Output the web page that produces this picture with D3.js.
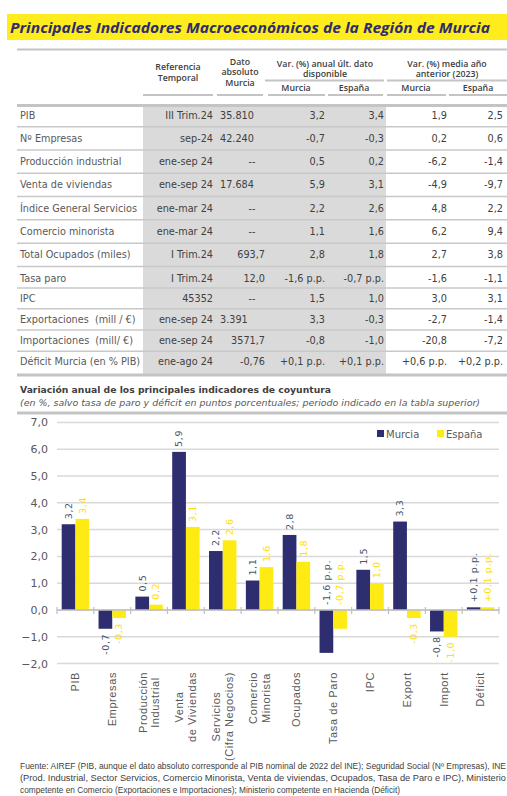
<!DOCTYPE html>
<html><head><meta charset="utf-8">
<script src="https://cdn.jsdelivr.net/npm/d3@7"></script>
<style>body{margin:0;background:#fff}svg{display:block}</style>
</head><body><div id="c"></div>
<script>
// ---------- DATA ----------
const rowNames = ["PIB","Nº Empresas","Producción industrial","Venta de viviendas","Índice General Servicios","Comercio minorista","Total Ocupados (miles)","Tasa paro","IPC","Exportaciones  (mill / €)","Importaciones  (mill/ €)","Déficit Murcia (en % PIB)"];
const refTemporal = ["III Trim.24","sep-24","ene-sep 24","ene-sep 24","ene-mar 24","ene-mar 24","I Trim.24","I Trim.24","45352","ene-sep 24","ene-sep 24","ene-ago 24"];
const datoAbs = ["35.810","42.240","--","17.684","--","--","693,7","12,0","--","3.391","3571,7","-0,76"];
const varMurcia = ["3,2","-0,7","0,5","5,9","2,2","1,1","2,8","-1,6 p.p.","1,5","3,3","-0,8","+0,1 p.p."];
const varEspana = ["3,4","-0,3","0,2","3,1","2,6","1,6","1,8","-0,7 p.p.","1,0","-0,3","-1,0","+0,1 p.p."];
const medMurcia = ["1,9","0,2","-6,2","-4,9","4,8","6,2","2,7","-1,6","3,0","-2,7","-20,8","+0,6 p.p."];
const medEspana = ["2,5","0,6","-1,4","-9,7","2,2","9,4","3,8","-1,1","3,1","-1,4","-7,2","+0,2 p.p."];

const categories = ["PIB","Empresas","Producción\nIndustrial","Venta\nde Viviendas","Servicios\n(Cifra Negocios)","Comercio\nMinorista","Ocupados","Tasa de Paro","IPC","Export","Import","Déficit"];
const murcia = [3.2,-0.7,0.5,5.9,2.2,1.1,2.8,-1.6,1.5,3.3,-0.8,0.1];
const espana = [3.4,-0.3,0.2,3.1,2.6,1.6,1.8,-0.7,1.0,-0.3,-1.0,0.1];
const murciaLabels = ["3,2","-0,7","0,5","5,9","2,2","1,1","2,8","-1,6 p.p.","1,5","3,3","-0,8","+0,1 p.p."];
const espanaLabels = ["3,4","-0,3","0,2","3,1","2,6","1,6","1,8","-0,7 p.p.","1,0","-0,3","-1,0","+0,1 p.p."];
const yTicks = [-2,-1,0,1,2,3,4,5,6,7];
const seriesNames = ["Murcia","España"];

const footLines = [
 "Fuente: AIREF (PIB, aunque el dato absoluto corresponde al PIB nominal de 2022 del INE); Seguridad Social (Nº Empresas), INE",
 "(Prod. Industrial, Sector Servicios, Comercio Minorista, Venta de viviendas, Ocupados, Tasa de Paro e IPC), Ministerio",
 "competente en Comercio (Exportaciones e Importaciones); Ministerio competente en Hacienda (Déficit)"
];

// ---------- STYLE ----------
const NAVY = "#2D2D70", YEL = "#FFEB14", GRID = "#D9D9D9", LINE = "#C4C4C4";
const W = 507, H = 796;
const svg = d3.select("#c").append("svg").attr("width", W).attr("height", H);

// ---------- TABLE ----------
svg.append("rect").attr("x",7).attr("y",14).attr("width",500).attr("height",26).attr("fill","#FFEC1C");
svg.append("text").attr("x",10).attr("y",33).text("Principales Indicadores Macroeconómicos de la Región de Murcia")
  .attr("font-family","'Open Sans'").attr("font-weight",700).attr("font-style","italic").attr("font-size",15)
  .attr("fill","#2E2C6E").attr("textLength",480).attr("lengthAdjust","spacingAndGlyphs");

const hline = (x1,x2,y,w,c) => svg.append("line").attr("x1",x1).attr("x2",x2).attr("y1",y).attr("y2",y)
  .attr("stroke",c||LINE).attr("stroke-width",w||1.5);
hline(17,507,49.5,2);

const hdr = (x,y,t) => svg.append("text").attr("x",x).attr("y",y).text(t).attr("text-anchor","middle")
  .attr("font-family","'Open Sans'").attr("font-weight",600).attr("font-size",8.8).attr("fill","#404040");
hdr(178,70,"Referencia"); hdr(178,81,"Temporal");
hdr(240,64.5,"Dato"); hdr(240,75,"absoluto"); hdr(240,85.5,"Murcia");
hdr(325,66.5,"Var. (%) anual últ. dato"); hdr(325,77,"disponible");
hdr(447,66.5,"Var. (%) media año"); hdr(447,77,"anterior (2023)");
hline(265,384,80.5,2); hline(387,507,80.5,2);
hdr(296,91,"Murcia"); hdr(354,91,"España"); hdr(416,91,"Murcia"); hdr(478,91,"España");
[[143,213],[217,263],[268,325],[328,383],[387,446],[449,507]].forEach(s=>hline(s[0],s[1],95,2));
hline(17,507,105.5,3);

// row positions
const rowY = i => i <= 7 ? 115 + 23.3*i : 276.7 + 21.3*(i-7);
svg.append("rect").attr("x",143).attr("y",107).attr("width",243).attr("height",267).attr("fill","#DADADA");
for (let i=0;i<rowNames.length-1;i++) hline(17,507,(rowY(i)+rowY(i+1))/2,1.5,"#C8C8C8");
hline(17,507,375,3);

const cell = (x,y,t,anchor,col) => svg.append("text").attr("x",x).attr("y",y).text(t).attr("text-anchor",anchor)
  .attr("font-family","'DejaVu Sans'").attr("font-size",9.7).attr("fill",col||"#404040").attr("xml:space","preserve");
rowNames.forEach((n,i)=>{
  const y = rowY(i)+3.5;
  cell(20,y,n,"start","#595959");
  cell(213,y,refTemporal[i],"end");
  const d = datoAbs[i];
  if (d === "--") cell(252,y,d,"middle");
  else if (d.includes(".")) cell(220,y,d,"start");
  else cell(265,y,d,"end");
  cell(325,y,varMurcia[i],"end");
  cell(384,y,varEspana[i],"end");
  cell(447,y,medMurcia[i],"end");
  cell(503,y,medEspana[i],"end");
});

// ---------- CHART ----------
svg.append("text").attr("x",20).attr("y",393).text("Variación anual de los principales indicadores de coyuntura")
  .attr("font-family","'DejaVu Sans'").attr("font-weight","bold").attr("font-size",9).attr("fill","#404040")
  .attr("textLength",311).attr("lengthAdjust","spacingAndGlyphs");
svg.append("text").attr("x",20).attr("y",406).text("(en %, salvo tasa de paro y déficit en puntos porcentuales; periodo indicado en la tabla superior)")
  .attr("font-family","'DejaVu Sans'").attr("font-style","italic").attr("font-size",8.6).attr("fill","#595959")
  .attr("textLength",460).attr("lengthAdjust","spacingAndGlyphs");
hline(17,507,413,3);

const y = d3.scaleLinear().domain([-2,7]).range([663.6,422.4]);
const x = d3.scaleBand().domain(categories).range([57,499]).padding(0);
const xs = d3.scaleBand().domain(seriesNames).range([4.7, x.bandwidth()-4.7]).padding(0);

// grid
svg.append("g").selectAll("line").data(yTicks).join("line")
  .attr("x1",57).attr("x2",499).attr("y1",d=>y(d)).attr("y2",d=>y(d)).attr("stroke",GRID).attr("stroke-width",1.5);
// y labels
const yAxis = svg.append("g").attr("transform","translate(57,0)")
  .call(d3.axisLeft(y).tickValues(yTicks).tickSize(0).tickPadding(9).tickFormat(d=>d3.format(".1f")(d).replace(".",",")));
yAxis.select(".domain").remove();
yAxis.selectAll("text").attr("font-family","'DejaVu Sans'").attr("font-size",11).attr("fill","#595959");

// bars
const series = [{name:"Murcia",vals:murcia,labels:murciaLabels,color:NAVY,lab:"#44546A"},
                {name:"España",vals:espana,labels:espanaLabels,color:YEL,lab:"#FFE000"}];
series.forEach(s=>{
  svg.append("g").selectAll("rect").data(categories).join("rect")
    .attr("x",(c)=>x(c)+xs(s.name)).attr("width",xs.bandwidth())
    .attr("y",(c,i)=>y(Math.max(0,s.vals[i]))).attr("height",(c,i)=>Math.abs(y(s.vals[i])-y(0)))
    .attr("fill",s.color);
});
// zero axis
hline(57,499,y(0),1.5,"#BFBFBF");
svg.append("g").selectAll("line").data(d3.range(categories.length+1)).join("line")
  .attr("x1",i=>57+i*x.bandwidth()).attr("x2",i=>57+i*x.bandwidth())
  .attr("y1",y(0)-3).attr("y2",y(0)+4).attr("stroke","#BFBFBF").attr("stroke-width",1.2);

// value labels
series.forEach(s=>{
  s.vals.forEach((v,i)=>{
    const cx = x(categories[i]) + xs(s.name) + xs.bandwidth()/2;
    const lab = s.labels[i];
    let py, anchor;
    if (lab.includes("p.p.")) { py = y(Math.max(0,v)) - 5; anchor = "start"; }
    else if (v >= 0) { py = y(v) - 5; anchor = "start"; }
    else { py = y(v) + 5; anchor = "end"; }
    svg.append("text").attr("transform",`translate(${cx},${py}) rotate(-90)`).attr("dy","0.35em")
      .attr("text-anchor",anchor).text(lab)
      .attr("font-family","'DejaVu Sans'").attr("font-size",9.5).attr("letter-spacing",0.6).attr("fill",s.lab);
  });
});

// x labels
categories.forEach(c=>{
  const lines = c.split("\n");
  const g = svg.append("g");
  const cx = x(c) + x.bandwidth()/2;
  const lh = 12.7;
  const ts = lines.map((l,k)=> g.append("text").text(l)
      .attr("font-family","'Liberation Sans'").attr("font-size",11).attr("letter-spacing",0.6).attr("fill","#595959")
      .attr("text-anchor","middle").attr("dy","0.35em"));
  const maxLen = d3.max(ts, t=>t.node().getComputedTextLength());
  const midY = 672 + maxLen/2;
  ts.forEach((t,k)=>{
    const lx = cx + (k - (lines.length-1)/2)*lh;
    t.attr("transform",`translate(${lx},${midY}) rotate(-90)`);
  });
});

// legend
series.forEach((s,k)=>{
  const lx = 377 + k*60;
  svg.append("rect").attr("x",lx).attr("y",430).attr("width",7).attr("height",7).attr("fill",s.color);
  svg.append("text").attr("x",lx+9).attr("y",438).text(s.name)
    .attr("font-family","'DejaVu Sans'").attr("font-size",10).attr("fill","#595959");
});

// footnote
footLines.forEach((l,k)=>{
  const t = svg.append("text").attr("x",20).attr("y",769+k*12.2).text(l)
    .attr("font-family","'Liberation Sans Narrow','Liberation Sans'").attr("font-size",8.3).attr("fill","#404040");
  if (k<2) t.attr("textLength",486).attr("lengthAdjust","spacingAndGlyphs");
});
</script></body></html>
